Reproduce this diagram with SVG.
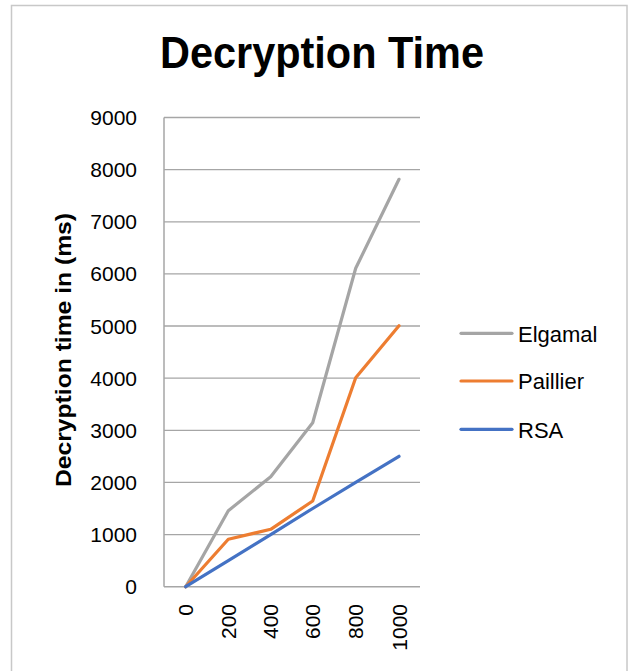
<svg xmlns="http://www.w3.org/2000/svg" width="630" height="671" viewBox="0 0 630 671">
<style>
.grid{stroke:#a6a6a6;stroke-width:1.3;fill:none}
.axis{stroke:#a6a6a6;stroke-width:1.5;fill:none}
.tick{font-family:"Liberation Sans",Arial,sans-serif;font-size:21px;fill:#000}
.ser{fill:none;stroke-width:3.2;stroke-linejoin:round;stroke-linecap:round}
.leg{font-family:"Liberation Sans",Arial,sans-serif;font-size:22px;fill:#000}
</style>
<rect x="11.5" y="5.5" width="615.5" height="700" fill="#ffffff" stroke="#c8c8c8" stroke-width="1.5"/>
<g id="title"><text x="322" y="68" text-anchor="middle" font-family="'Liberation Sans',Arial,sans-serif" font-weight="bold" font-size="44" textLength="324" lengthAdjust="spacingAndGlyphs">Decryption Time</text></g>
<g id="gridlines">
<line class="grid" x1="164" y1="117.5" x2="420" y2="117.5"/>
<line class="grid" x1="164" y1="169.6" x2="420" y2="169.6"/>
<line class="grid" x1="164" y1="221.8" x2="420" y2="221.8"/>
<line class="grid" x1="164" y1="273.9" x2="420" y2="273.9"/>
<line class="grid" x1="164" y1="326" x2="420" y2="326"/>
<line class="grid" x1="164" y1="378.2" x2="420" y2="378.2"/>
<line class="grid" x1="164" y1="430.3" x2="420" y2="430.3"/>
<line class="grid" x1="164" y1="482.4" x2="420" y2="482.4"/>
<line class="grid" x1="164" y1="534.6" x2="420" y2="534.6"/>
<line class="axis" x1="164" y1="586.7" x2="420" y2="586.7"/>
<line class="axis" x1="164" y1="117.5" x2="164" y2="586.7"/>
</g>
<g id="y-labels" class="tick" text-anchor="end">
<text x="137" y="125">9000</text>
<text x="137" y="177.1">8000</text>
<text x="137" y="229.3">7000</text>
<text x="137" y="281.4">6000</text>
<text x="137" y="333.5">5000</text>
<text x="137" y="385.7">4000</text>
<text x="137" y="437.8">3000</text>
<text x="137" y="489.9">2000</text>
<text x="137" y="542.1">1000</text>
<text x="137" y="594.2">0</text>
</g>
<g id="x-labels" class="tick" text-anchor="end">
<text transform="translate(193.2,604) rotate(-90)">0</text>
<text transform="translate(235.8,604) rotate(-90)">200</text>
<text transform="translate(278.2,604) rotate(-90)">400</text>
<text transform="translate(320.2,604) rotate(-90)">600</text>
<text transform="translate(363.2,604) rotate(-90)">800</text>
<text transform="translate(406.5,604) rotate(-90)">1000</text>
</g>
<g id="y-axis-title"><text transform="translate(71,350) rotate(-90)" text-anchor="middle" font-family="'Liberation Sans',Arial,sans-serif" font-weight="bold" font-size="22" textLength="274" lengthAdjust="spacingAndGlyphs">Decryption time in (ms)</text></g>
<g id="connectors">
<polyline id="elgamal" class="ser" stroke="#a5a5a5" points="185.7,586.7 228.3,510.7 270.7,476.7 312.7,422.7 355.7,268.3 399,179.3"/>
<polyline id="paillier" class="ser" stroke="#ed7d31" points="185.7,586.7 228.3,539.3 270.7,529.3 312.7,501 355.7,377.7 399,325.7"/>
<polyline id="rsa" class="ser" stroke="#4472c4" points="185.7,586.7 228.3,560.6 270.7,534.6 312.7,508.5 355.7,482.4 399,456.3"/>
</g>
<g id="legend">
<g id="legend-elgamal"><line class="ser" stroke="#a5a5a5" x1="461" y1="333.3" x2="512" y2="333.3"/><text class="leg" x="518" y="341.5">Elgamal</text></g>
<g id="legend-paillier"><line class="ser" stroke="#ed7d31" x1="461" y1="381" x2="512" y2="381"/><text class="leg" x="518" y="389.2">Paillier</text></g>
<g id="legend-rsa"><line class="ser" stroke="#4472c4" x1="461" y1="429.3" x2="512" y2="429.3"/><text class="leg" x="518" y="437.5">RSA</text></g>
</g>
</svg>
